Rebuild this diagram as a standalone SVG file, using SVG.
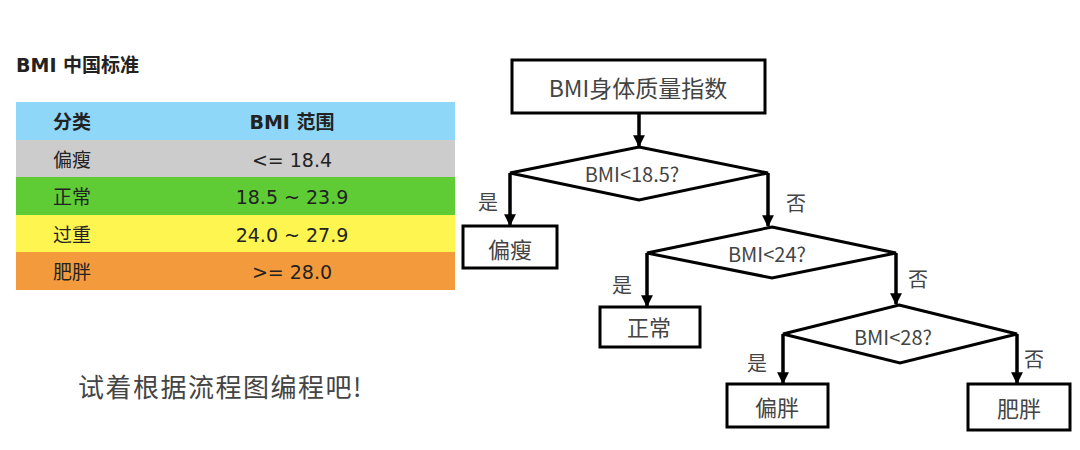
<svg xmlns="http://www.w3.org/2000/svg" width="1080" height="450" viewBox="0 0 1080 450">
<style>
.tbl{font-family:"DejaVu Sans","Noto Sans CJK SC",sans-serif;font-size:19px;fill:#222}
.b{font-weight:bold}
.fc{font-family:"Noto Sans CJK SC",sans-serif;fill:#444}
.lb{font-size:20px;text-anchor:middle}
.dt{font-size:20px;text-anchor:middle}
.bt{font-size:22px;text-anchor:middle}
.box{fill:#fff;stroke:#000;stroke-width:3}
.line{fill:none;stroke:#000;stroke-width:3.5}
</style>
<defs>
<marker id="ah" viewBox="0 0 10 10" refX="9" refY="5" markerWidth="3.4" markerHeight="3.4" orient="auto" markerUnits="strokeWidth">
<path d="M0,0 L10,5 L0,10 z" fill="#000"/>
</marker>
</defs>
<rect width="1080" height="450" fill="#fff"/>
<g id="table">
<text class="tbl b" x="16" y="72" font-size="18">BMI 中国标准</text>
<rect x="16" y="102" width="439" height="38" fill="#8ED7F8"/>
<rect x="16" y="140" width="439" height="37" fill="#CCCCCC"/>
<rect x="16" y="177" width="439" height="38" fill="#5FCB35"/>
<rect x="16" y="215" width="439" height="37" fill="#FEF550"/>
<rect x="16" y="252" width="439" height="38" fill="#F39A3D"/>
<text class="tbl b" x="53" y="129">分类</text>
<text class="tbl b" x="292" y="129" text-anchor="middle">BMI 范围</text>
<text class="tbl" x="53" y="167">偏瘦</text>
<text class="tbl" x="292" y="167" text-anchor="middle">&lt;= 18.4</text>
<text class="tbl" x="53" y="204">正常</text>
<text class="tbl" x="292" y="204" text-anchor="middle">18.5 ~ 23.9</text>
<text class="tbl" x="53" y="242">过重</text>
<text class="tbl" x="292" y="242" text-anchor="middle">24.0 ~ 27.9</text>
<text class="tbl" x="53" y="279">肥胖</text>
<text class="tbl" x="292" y="279" text-anchor="middle">&gt;= 28.0</text>
</g>
<text class="fc" x="78" y="397" font-size="26" letter-spacing="1.5">试着根据流程图编程吧!</text>
<g id="connectors">
<path class="line" d="M639,113 V146" marker-end="url(#ah)"/>
<path class="line" d="M510,173 V225" marker-end="url(#ah)"/>
<path class="line" d="M768,173 V226" marker-end="url(#ah)"/>
<path class="line" d="M647,253 V306" marker-end="url(#ah)"/>
<path class="line" d="M896,253 V304" marker-end="url(#ah)"/>
<path class="line" d="M783,334 V383" marker-end="url(#ah)"/>
<path class="line" d="M1017,334 V383" marker-end="url(#ah)"/>
<text class="fc lb" x="488" y="210">是</text>
<text class="fc lb" x="796" y="211">否</text>
<text class="fc lb" x="622" y="293">是</text>
<text class="fc lb" x="918" y="287">否</text>
<text class="fc lb" x="757" y="371">是</text>
<text class="fc lb" x="1034" y="367">否</text>
</g>
<g id="start">
<rect class="box" x="512" y="60" width="253" height="53"/>
<text class="fc" x="638" y="97" font-size="23" text-anchor="middle">BMI身体质量指数</text>
</g>
<g id="d1">
<polygon class="box" points="639,147 768,173 639,200 510,173"/>
<text class="fc dt" x="632" y="182">BMI&lt;18.5?</text>
</g>
<g id="thin">
<rect class="box" x="463" y="226" width="94" height="42"/>
<text class="fc bt" x="510" y="258">偏瘦</text>
</g>
<g id="d2">
<polygon class="box" points="772,227 896,253 772,278 647,253"/>
<text class="fc dt" x="767" y="262">BMI&lt;24?</text>
</g>
<g id="normal">
<rect class="box" x="600" y="307" width="100" height="40"/>
<text class="fc bt" x="649" y="336">正常</text>
</g>
<g id="d3">
<polygon class="box" points="899,305 1017,334 900,363 783,334"/>
<text class="fc dt" x="893" y="345">BMI&lt;28?</text>
</g>
<g id="over">
<rect class="box" x="727" y="384" width="101" height="43"/>
<text class="fc bt" x="777" y="416">偏胖</text>
</g>
<g id="obese">
<rect class="box" x="968" y="384" width="102" height="46"/>
<text class="fc bt" x="1019" y="417">肥胖</text>
</g>
</svg>
